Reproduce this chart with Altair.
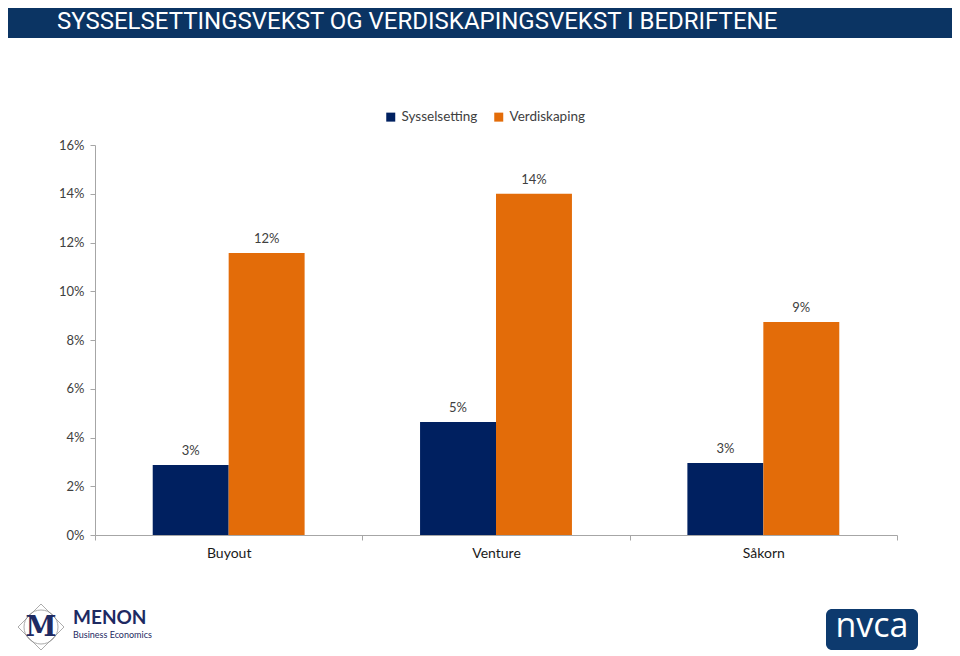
import altair as alt
import pandas as pd

# ---- data ----
categories = ["Buyout", "Venture", "Såkorn"]
series = ["Sysselsetting", "Verdiskaping"]
sysselsetting = [0.0287, 0.0464, 0.0295]
verdiskaping = [0.1157, 0.1400, 0.0874]
y_ticks = [0, 0.02, 0.04, 0.06, 0.08, 0.10, 0.12, 0.14, 0.16]
colors = ["#002060", "#E36C09"]
title_text = "SYSSELSETTINGSVEKST OG VERDISKAPINGSVEKST I BEDRIFTENE"

rows = []
for c, s, v in zip(categories, sysselsetting, verdiskaping):
    rows.append({"kategori": c, "serie": series[0], "verdi": s})
    rows.append({"kategori": c, "serie": series[1], "verdi": v})
df = pd.DataFrame(rows)

FONT = "Lato"
TXT = "#404040"
GRAY = "#a6a6a6"

x_enc = alt.X("kategori:N", sort=categories,
              scale=alt.Scale(paddingInner=0, paddingOuter=0),
              axis=alt.Axis(title=None, labelAngle=0, labelFont=FONT, labelFontSize=14,
                            labelColor="#1a1a1a", domainColor=GRAY, tickColor=GRAY,
                            tickSize=5, tickBand="extent", labelPadding=6, grid=False))
xo_enc = alt.XOffset("serie:N", sort=series,
                     scale=alt.Scale(paddingInner=0, paddingOuter=0.76))
y_enc = alt.Y("verdi:Q",
              scale=alt.Scale(domain=[0, 0.16], nice=False),
              axis=alt.Axis(title=None, values=y_ticks, format=".0%", grid=False,
                            labelFont=FONT, labelFontSize=13, labelColor=TXT,
                            domainColor=GRAY, tickColor=GRAY, tickSize=5, labelPadding=6))

bars = alt.Chart(df).mark_bar().encode(
    x=x_enc, xOffset=xo_enc, y=y_enc,
    color=alt.Color("serie:N", sort=series,
                    scale=alt.Scale(domain=series, range=colors),
                    legend=alt.Legend(title=None, orient="none", legendX=289, legendY=-35,
                                      direction="horizontal", symbolType="square",
                                      symbolSize=81, symbolStrokeWidth=0,
                                      labelFont=FONT, labelFontSize=13.5, labelColor=TXT,
                                      labelOffset=4, columnPadding=14, padding=0)),
)

labels = alt.Chart(df).mark_text(baseline="bottom", dy=-7, font=FONT, fontSize=13,
                                 color=TXT).encode(
    x=alt.X("kategori:N", sort=categories), xOffset=alt.XOffset("serie:N", sort=series),
    y="verdi:Q",
    text=alt.Text("verdi:Q", format=".0%"),
)

one = pd.DataFrame({"d": [0]})
base = alt.Chart(one)

title_bar = base.mark_rect(color="#0b3463").encode(
    x=alt.value(-87), x2=alt.value(857), y=alt.value(-137), y2=alt.value(-107))
title = base.mark_text(align="left", baseline="alphabetic", font="Roboto",
                       fontSize=24, fontWeight="normal", color="white").encode(
    x=alt.value(-38), y=alt.value(-116), text=alt.value(title_text))

# MENON logo
navy_logo = "#1e2a62"
m_circle = base.mark_point(shape="circle", size=1156, filled=False, color="#8a8a8a",
                           strokeWidth=1).encode(x=alt.value(-54), y=alt.value(482))
m_diamond = base.mark_point(shape="diamond", size=2116, filled=False, color="#8a8a8a",
                            strokeWidth=1).encode(x=alt.value(-54), y=alt.value(482))
m_letter = base.mark_text(font="DejaVu Serif", fontWeight="bold", fontSize=28,
                          color=navy_logo, baseline="middle").encode(
    x=alt.value(-54), y=alt.value(483), text=alt.value("M"))
menon = base.mark_text(align="left", font=FONT, fontWeight="bold", fontSize=19,
                       color=navy_logo, baseline="alphabetic").encode(
    x=alt.value(-22), y=alt.value(479), text=alt.value("MENON"))
menon_sub = base.mark_text(align="left", font=FONT, fontSize=9, color=navy_logo,
                           baseline="alphabetic").encode(
    x=alt.value(-22), y=alt.value(493), text=alt.value("Business Economics"))

# nvca logo
nvca_box = base.mark_rect(color="#0d3a6e", cornerRadius=6).encode(
    x=alt.value(731), x2=alt.value(823), y=alt.value(464), y2=alt.value(505))
nvca_txt = base.mark_text(font="Open Sans", fontSize=34, color="white",
                          baseline="middle").encode(
    x=alt.value(777), y=alt.value(482), text=alt.value("nvca"))

chart = alt.layer(bars, labels, title_bar, title, m_circle, m_diamond, m_letter,
                  menon, menon_sub, nvca_box, nvca_txt).properties(
    width=802, height=390,
    autosize=alt.AutoSizeParams(type="none"),
    padding={"left": 87, "top": 137, "right": 55, "bottom": 121},
).configure_view(stroke=None)

chart.save("out.html", embed_options={"renderer": "svg", "actions": False})
